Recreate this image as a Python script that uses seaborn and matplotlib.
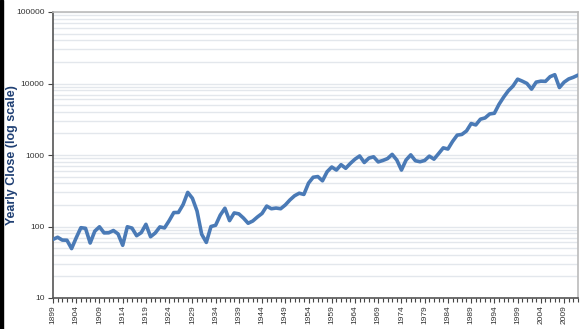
import numpy as np
import pandas as pd
import matplotlib
matplotlib.use("Agg")
import matplotlib.pyplot as plt
import seaborn as sns
from matplotlib.ticker import FixedLocator, LogLocator, NullFormatter, FuncFormatter

years = list(range(1899, 2013))
closes = [
    66.08, 70.71, 64.56, 64.29, 49.11, 69.61, 96.20, 94.35, 58.75, 86.15,
    99.05, 81.36, 81.68, 87.87, 78.78, 54.58, 99.15, 95.00, 74.38, 82.20,
    107.23, 71.95, 81.10, 98.73, 95.52, 120.51, 156.66, 157.20, 202.40, 300.00,
    248.48, 164.58, 77.90, 59.93, 99.90, 104.04, 144.13, 179.90, 120.85, 154.76,
    150.24, 131.13, 110.96, 119.40, 135.89, 152.32, 192.91, 177.20, 181.16, 177.30,
    200.13, 235.41, 269.23, 291.90, 280.90, 404.39, 488.40, 499.47, 435.69, 583.65,
    679.36, 615.89, 731.14, 652.10, 762.95, 874.13, 969.26, 785.69, 905.11, 943.75,
    800.36, 838.92, 890.20, 1020.02, 850.86, 616.24, 852.41, 1004.65, 831.17, 805.01,
    838.74, 963.99, 875.00, 1046.54, 1258.64, 1211.57, 1546.67, 1895.95, 1938.83, 2168.57,
    2753.20, 2633.66, 3168.83, 3301.11, 3754.09, 3834.44, 5117.12, 6448.27, 7908.25, 9181.43,
    11497.12, 10786.85, 10021.50, 8341.63, 10453.92, 10783.01, 10717.50, 12463.15, 13264.82, 8776.39,
    10428.05, 11577.51, 12217.56, 13104.14,
]
year_labels = list(range(1899, 2013, 5))
y_ticks = [10, 100, 1000, 10000, 100000]
y_label = "Yearly Close (log scale)"

sns.set_theme(style="white")
plt.rcParams['font.family'] = ['Liberation Sans', 'DejaVu Sans']

df = pd.DataFrame({"Year": years, "Close": closes})

fig = plt.figure(figsize=(5.87, 3.29), dpi=100)
ax = fig.add_axes([53/587, 1 - 298/329, (578-53)/587, (298-12)/329])

ax.set_yscale("log")
ax.set_ylim(10, 100000)
ax.set_xlim(1899, 2012)

# gridlines
ax.yaxis.set_major_locator(FixedLocator(y_ticks))
ax.yaxis.set_minor_locator(LogLocator(base=10, subs=np.arange(2, 10)))
ax.yaxis.set_minor_formatter(NullFormatter())
ax.yaxis.set_major_formatter(FuncFormatter(lambda v, p: f"{int(v)}"))
ax.grid(True, which="both", axis="y", color="#E3E7EC", linewidth=1.0)
ax.set_axisbelow(True)

sns.lineplot(data=df, x="Year", y="Close", ax=ax, color="#4A7AB6", linewidth=2.6, zorder=3)

ax.xaxis.set_major_locator(FixedLocator(year_labels))
ax.xaxis.set_minor_locator(FixedLocator(years))
ax.set_xticklabels([str(y) for y in year_labels], rotation=90, fontsize=6, color="#333333")
ax.tick_params(axis="x", which="major", length=3.5, width=0.8, color="#444444", pad=2, bottom=True)
ax.tick_params(axis="x", which="minor", length=3, width=0.8, color="#444444", bottom=True)
ax.tick_params(axis="y", which="major", length=3.6, width=0.8, color="#444444", labelsize=6, labelcolor="#333333", left=True, pad=2.5)
ax.tick_params(axis="y", which="minor", length=0)

ax.set_xlabel("")
ax.set_ylabel(y_label, fontsize=9, fontweight="bold", color="#1F3F73")
ax.yaxis.set_label_coords(-0.067, 0.5)

for s in ["left", "bottom"]:
    ax.spines[s].set_color("#555555")
    ax.spines[s].set_linewidth(1.2)
for s in ["top", "right"]:
    ax.spines[s].set_color("#BBBBBB")
    ax.spines[s].set_linewidth(1.2)

# dark strip at the left edge as in the reference
fig.patches.append(plt.Rectangle((0, 0), 2.5/587, 1, transform=fig.transFigure, color="black", zorder=10))

fig.savefig("out.png", dpi=100)
